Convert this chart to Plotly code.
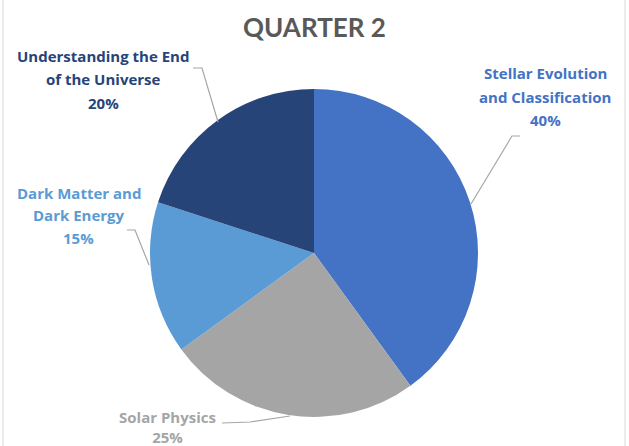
import plotly.graph_objects as go

categories = ["Stellar Evolution and Classification", "Solar Physics",
              "Dark Matter and Dark Energy", "Understanding the End of the Universe"]
values = [40, 25, 15, 20]
colors = ["#4472C4", "#A5A5A5", "#5B9BD5", "#264478"]
label_lines = [["Stellar Evolution", "and Classification"], ["Solar Physics"],
               ["Dark Matter and", "Dark Energy"], ["Understanding the End", "of the Universe"]]
title_text = "QUARTER 2"

W, H = 629, 446
def px(x): return x / W
def py(y): return 1 - y / H

fig = go.Figure(go.Pie(
    labels=categories, values=values, sort=False, direction="clockwise",
    rotation=0, marker=dict(colors=colors, line=dict(width=0)),
    textinfo="none", hoverinfo="label+percent", showlegend=False,
    domain=dict(x=[px(150), px(478)], y=[py(417), py(89)]),
))

label_font = "'Open Sans', sans-serif"
title_font = "Lato, 'Open Sans', sans-serif"
total = sum(values)
pcts = [f"{round(v / total * 100)}%" for v in values]

# label center x and line center y positions (pixels)
label_pos = [(545, [73, 97, 120]), None, (79, [193, 215, 238]), (103, [56, 79, 103])]
leaders = [[(520, 136), (512, 136), (471, 204)],
           [(222, 423), (250, 422), (290, 416)],
           [(127, 230), (135, 230), (149, 265)],
           [(193, 68), (202, 68), (218, 122)]]

annotations = []
def add_text(x, y, t, color, size=15, xanchor="center", family=label_font):
    annotations.append(dict(x=px(x), y=py(y), xref="paper", yref="paper",
                            text=f"<b>{t}</b>", showarrow=False, xanchor=xanchor, yanchor="middle",
                            font=dict(family=family, size=size, color=color)))

for i, lines in enumerate(label_lines):
    if label_pos[i] is None:
        continue
    cx, ys = label_pos[i]
    for t, y in zip(lines + [pcts[i]], ys):
        add_text(cx, y, t, colors[i])

add_text(167, 427, label_lines[1][0] + "<br>" + pcts[1], colors[1])
add_text(314, 27, title_text, "#595959", size=26, family=title_font)

shapes = []
for pts in leaders:
    path = "M " + " L ".join(f"{px(x)},{py(y)}" for x, y in pts)
    shapes.append(dict(type="path", xref="paper", yref="paper", path=path,
                       line=dict(color="#A6A6A6", width=1.2)))
for bx in [3, 625]:
    shapes.append(dict(type="line", xref="paper", yref="paper", x0=px(bx), x1=px(bx), y0=0, y1=1,
                       line=dict(color="#D9D9D9", width=1)))

fig.update_layout(width=W, height=H, margin=dict(l=0, r=0, t=0, b=0),
                  paper_bgcolor="white", plot_bgcolor="white",
                  annotations=annotations, shapes=shapes)
fig.write_html("out.html", config={"displayModeBar": False},
               post_script="document.body.style.margin='0px';document.body.style.overflow='hidden';")
